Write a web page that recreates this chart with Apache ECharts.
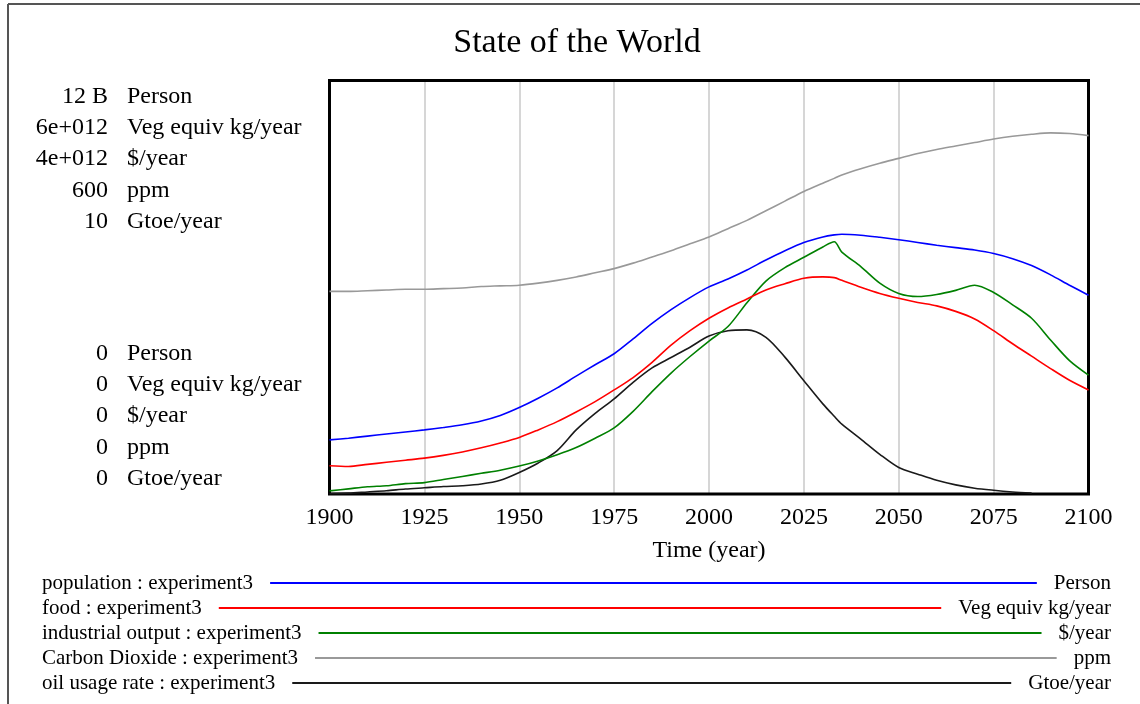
<!DOCTYPE html>
<html>
<head>
<meta charset="utf-8">
<title>State of the World</title>
<script src="https://cdn.jsdelivr.net/npm/echarts@6/dist/echarts.min.js"></script>
<style>
  html, body { margin: 0; padding: 0; background: #fff; }
  #chart { width: 1140px; height: 704px; }
</style>
</head>
<body>
<div id="chart"></div>
<script>
// time axis (years), one extra point at 2033 for the industrial peak
const years = [1900, 1905, 1910, 1915, 1920, 1925, 1930, 1935, 1940, 1945,
  1950, 1955, 1960, 1965, 1970, 1975, 1980, 1985, 1990, 1995,
  2000, 2005, 2010, 2015, 2020, 2025, 2030, 2033, 2035, 2040, 2045,
  2050, 2055, 2060, 2065, 2070, 2075, 2080, 2085, 2090, 2095, 2100]

// population, billions of persons
const population = [1.57, 1.62, 1.68, 1.74, 1.80, 1.86, 1.93, 2.01, 2.12, 2.28,
  2.51, 2.78, 3.08, 3.42, 3.75, 4.07, 4.50, 4.95, 5.35, 5.70,
  6.01, 6.24, 6.50, 6.79, 7.06, 7.30, 7.46, 7.52, 7.54, 7.51, 7.45,
  7.38, 7.30, 7.22, 7.15, 7.08, 6.98, 6.83, 6.63, 6.36, 6.06, 5.77]

// food, 1e12 veg equiv kg/year
const food = [0.41, 0.40, 0.43, 0.46, 0.49, 0.52, 0.56, 0.61, 0.67, 0.74,
  0.82, 0.93, 1.05, 1.19, 1.34, 1.51, 1.69, 1.91, 2.16, 2.37,
  2.55, 2.70, 2.83, 2.96, 3.05, 3.13, 3.15, 3.14, 3.10, 3.00, 2.91,
  2.84, 2.78, 2.73, 2.65, 2.54, 2.37, 2.18, 2.00, 1.82, 1.65, 1.51]

// industrial output, 1e12 $/year
const industrial = [0.03, 0.05, 0.07, 0.08, 0.10, 0.11, 0.14, 0.17, 0.20, 0.23,
  0.27, 0.32, 0.38, 0.45, 0.54, 0.64, 0.80, 0.99, 1.17, 1.33,
  1.48, 1.62, 1.85, 2.06, 2.19, 2.29, 2.39, 2.44, 2.34, 2.20, 2.04,
  1.94, 1.91, 1.93, 1.97, 2.02, 1.95, 1.83, 1.70, 1.49, 1.29, 1.15]

// carbon dioxide, ppm
const co2 = [294, 294, 295, 296, 297, 297, 298, 299, 301, 302,
  303, 306, 310, 315, 321, 327, 335, 344, 353, 363,
  373, 385, 397, 411, 425, 439, 451, 458, 463, 472, 480,
  487, 494, 500, 505, 510, 515, 519, 522, 524, 523, 520]

// oil usage rate, Gtoe/year
const oil = [0.01, 0.02, 0.05, 0.08, 0.12, 0.15, 0.18, 0.20, 0.24, 0.33,
  0.52, 0.75, 1.05, 1.55, 1.95, 2.30, 2.70, 3.05, 3.30, 3.55,
  3.82, 3.95, 3.97, 3.79, 3.31, 2.74, 2.18, 1.88, 1.69, 1.33, 0.96,
  0.64, 0.48, 0.33, 0.22, 0.14, 0.09, 0.05, 0.02, null, null, null]

// scale tops shown on the left, per series
const scaleTops = ['12 B', '6e+012', '4e+012', '600', '10']
const scaleMax = [12, 6, 4, 600, 10]
const units = ['Person', 'Veg equiv kg/year', '$/year', 'ppm', 'Gtoe/year']
const names = ['population : experiment3', 'food : experiment3',
  'industrial output : experiment3', 'Carbon Dioxide : experiment3',
  'oil usage rate : experiment3']
const colors = ['#0000ff', '#ff0000', '#008000', '#999999', '#1a1a1a']
const seriesData = [population, food, industrial, co2, oil]

const FONT = "'Liberation Serif', 'Times New Roman', serif"

// measure text so the legend lines fit between label and unit
const ctx = document.createElement('canvas').getContext('2d')
function textWidth (txt, size) {
  ctx.font = size + 'px ' + FONT
  return ctx.measureText(txt).width
}

function text (x, y, txt, size, align) {
  return {
    type: 'text',
    x: x,
    y: y,
    style: {
      text: txt,
      fill: '#000',
      font: size + 'px ' + FONT,
      textAlign: align || 'left',
      textVerticalAlign: 'middle'
    }
  }
}

const graphics = []

// outer frame (top + left only visible)
graphics.push({ type: 'line', shape: { x1: 8, y1: 4, x2: 1140, y2: 4 }, style: { stroke: '#555', lineWidth: 2 } })
graphics.push({ type: 'line', shape: { x1: 8, y1: 4, x2: 8, y2: 704 }, style: { stroke: '#555', lineWidth: 2 } })

// title
graphics.push(text(577, 43, 'State of the World', 34, 'center'))

// scale labels at the left
const topRows = [97, 128, 159, 191, 222]
const bottomRows = [354, 385, 416, 448, 479]
for (let i = 0; i < 5; i++) {
  graphics.push(text(108, topRows[i], scaleTops[i], 24, 'right'))
  graphics.push(text(127, topRows[i], units[i], 24))
  graphics.push(text(108, bottomRows[i], '0', 24, 'right'))
  graphics.push(text(127, bottomRows[i], units[i], 24))
}

// legend rows: name ---- unit
const legendRows = [583, 608, 633, 658, 683]
for (let i = 0; i < 5; i++) {
  const y = legendRows[i]
  const x1 = 42 + textWidth(names[i], 21) + 17
  const x2 = 1111 - textWidth(units[i], 21) - 17
  graphics.push(text(42, y, names[i], 21))
  graphics.push(text(1111, y, units[i], 21, 'right'))
  graphics.push({
    type: 'line',
    shape: { x1: x1, y1: y, x2: x2, y2: y },
    style: { stroke: colors[i], lineWidth: 2 }
  })
}

const yAxes = scaleMax.map(function (m) {
  return { type: 'value', min: 0, max: m, show: false }
})

const series = seriesData.map(function (arr, i) {
  return {
    name: names[i],
    type: 'line',
    yAxisIndex: i,
    data: years.map(function (yr, k) { return [yr, arr[k]] }),
    showSymbol: false,
    smooth: 0.3,
    connectNulls: false,
    lineStyle: { color: colors[i], width: 1.6 },
    itemStyle: { color: colors[i] },
    z: 10 - i
  }
})

const myChart = echarts.init(document.getElementById('chart'))
myChart.setOption({
  animation: false,
  backgroundColor: '#fff',
  grid: {
    left: 329.5,
    right: 51.5,
    top: 80.5,
    bottom: 210,
    show: true,
    borderColor: '#000',
    borderWidth: 3,
    z: 5
  },
  xAxis: {
    type: 'value',
    min: 1900,
    max: 2100,
    interval: 25,
    name: 'Time (year)',
    nameLocation: 'middle',
    nameGap: 45,
    nameTextStyle: { fontFamily: FONT, fontSize: 24, color: '#000' },
    axisLine: { show: false },
    axisTick: { show: false },
    axisLabel: {
      fontFamily: FONT,
      fontSize: 24,
      color: '#000',
      margin: 12,
      formatter: function (v) { return String(v) }
    },
    splitLine: { show: true, lineStyle: { color: '#c8c8c8', width: 1.5 } }
  },
  yAxis: yAxes,
  series: series,
  graphic: graphics
})
</script>
</body>
</html>
